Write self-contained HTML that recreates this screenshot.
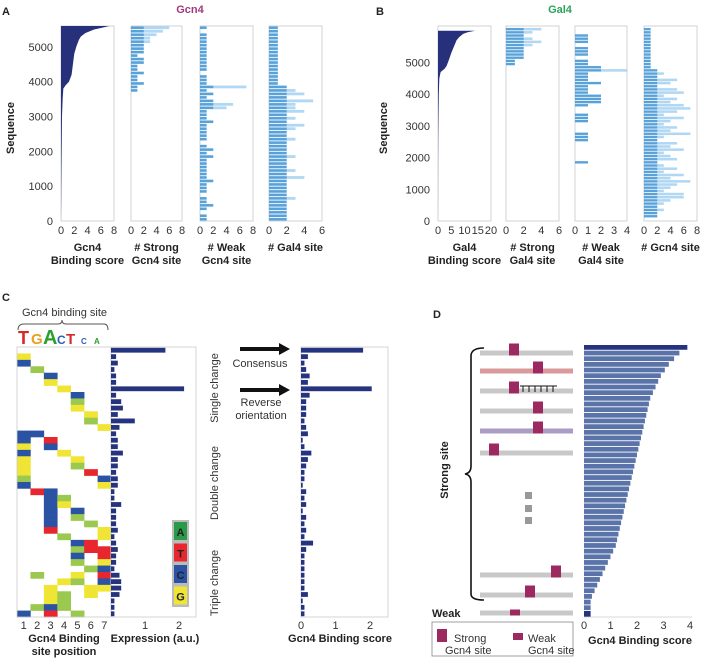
<!DOCTYPE html>
<html><head><meta charset="utf-8"><style>
body{margin:0;background:#fff}
svg{display:block;font-family:"Liberation Sans",sans-serif}
.b{font-weight:bold;font-size:11px;fill:#222}
.t{font-size:11px;fill:#333}
</style></head><body>
<svg id="fig" width="704" height="660" viewBox="0 0 704 660" xmlns="http://www.w3.org/2000/svg">
<g id="gA"></g>
<g id="gB"></g>
<g id="gC"></g>
<g id="gD"></g>
</svg>
<script>
// ---- Panel A data ----
const aSeq=[5600,5550,5500,5400,5300,5200,5000,4800,4500,4200,4000,3900,3800,3500,3000,2000,1000,0];
const aScore=[7.3,6.2,5.0,3.7,3.0,2.7,2.3,2.0,1.8,1.6,1.2,0.7,0.35,0.25,0.15,0.1,0.05,0];
const aStrong=[6,5,4,3,3,2,2,2,1,2,2,1,1,2,1,1,2,1,1,0,0,0,0,0,0,0,0,0,0,0,0,0,0,0,0,0,0,0,0,0,0,0,0,0,0,0,0,0,0,0,0,0,0,0,0,0];
const aWeak=[1,0,1,1,1,1,1,1,1,1,1,1,1,0,1,1,1,7,1,2,1,2,5,4,1,1,1,2,1,1,1,1,1,0,1,2,1,2,1,1,1,1,1,1,2,1,1,1,0,1,1,2,1,0,1,1];
const aGal=[1,1,1,1,1,1,1,1,1,1,1,1,1,1,1,1,1,2,3,4,2,5,3,3,4,2,3,2,4,3,2,2,3,2,2,2,2,3,2,2,2,3,2,4,2,2,2,2,2,3,2,2,2,2,2,2];
const aYTicks=[0,1000,2000,3000,4000,5000];
// ---- Panel B data ----
const bSeq=[6000,5950,5900,5800,5700,5600,5500,5300,5100,4900,4800,4700,4500,4000,3000,2700,2000,0];
const bScore=[14,11,9.5,8,7,6.5,6,5,4.2,3.3,2.5,1,0.5,0.3,0.15,0.1,0.05,0];
const bStrong=[4,3,2,3,4,3,2,2,2,2,1,1,0,0,0,0,0,0,0,0,0,0,0,0,0,0,0,0,0,0,0,0,0,0,0,0,0,0,0,0,0,0,0,0,0,0,0,0,0,0,0,0,0,0,0,0,0,0,0,0];
const bWeak=[0,0,1,1,1,0,1,1,1,0,1,1,2,4,1,1,1,2,1,1,1,2,2,2,1,0,0,1,1,1,0,0,0,1,1,1,0,0,0,0,0,0,1,0,0,0,0,0,0,0,0,0,0,0,0,0,0,0,0,0];
const bGcn=[1,1,1,1,1,1,1,1,1,1,1,1,1,2,3,2,5,4,2,5,6,3,5,4,6,7,5,3,6,4,3,5,4,7,3,2,5,4,6,3,4,5,2,3,5,3,6,4,7,5,4,3,6,6,4,3,2,3,2,2];
const bYTicks=[0,1000,2000,3000,4000,5000];
// ---- Panel C data ----
const cRows=[".......","G......","C......",".A.....","..C....","..G....","...G...","....C..","....A..","....G..",".....G.",".....A.","......G","CC.....","C.T....","G.C....","C..G...","G...G..","G...A..","G....T.","A.....C","C.....G",".TC....","..CA...","..CG...","..C.C..","..C.A..","..C..A.","..T...G","...A..G","....CT.","....ATT","....C.T","....A.G",".....AC",".A..G.T","...GA.C","..G..GG","..GA.G.","..GA...",".ACA...","C.T.A.."];
const cExpr=[1.6,0.15,0.2,0.1,0.15,0.15,2.15,0.15,0.3,0.35,0.2,0.7,0.25,0.15,0.2,0.2,0.35,0.2,0.2,0.15,0.2,0.2,0.1,0.1,0.3,0.15,0.15,0.15,0.2,0.1,0.15,0.2,0.15,0.15,0.1,0.25,0.3,0.3,0.25,0.1,0.1,0.1];
const cBind=[1.8,0.2,0.1,0.15,0.25,0.2,2.05,0.25,0.15,0.15,0.15,0.1,0.15,0.2,0.05,0.1,0.3,0.2,0.15,0.1,0.1,0.05,0.15,0.1,0.15,0.05,0.15,0.1,0.15,0.1,0.35,0.15,0.1,0.1,0.1,0.1,0.1,0.1,0.2,0.05,0.1,0.1];
const cPosLabels=[1,2,3,4,5,6,7];
const cExprTicks=[1,2];
const cBindTicks=[0,1,2];
// ---- Panel D data ----
const dScores=[3.9,3.6,3.4,3.2,3.05,2.9,2.8,2.7,2.6,2.5,2.45,2.4,2.35,2.3,2.25,2.2,2.15,2.1,2.05,2.0,1.95,1.9,1.85,1.8,1.75,1.7,1.65,1.6,1.55,1.5,1.45,1.4,1.35,1.3,1.25,1.2,1.1,1.0,0.9,0.8,0.7,0.6,0.5,0.4,0.3,0.25,0.25];
const dTicks=[0,1,2,3,4];

const NS="http://www.w3.org/2000/svg";
function mk(parent,tag,attrs,text){const e=document.createElementNS(NS,tag);for(const k in attrs)e.setAttribute(k,attrs[k]);if(text!==undefined)e.textContent=text;parent.appendChild(e);return e;}

function seqPanel(g,x0,x1,max,yTop,domTop,seqs,scores,counts,ticksX,yTicks,showY,lab1,lab2,name){
  const sy=s=>221-(221-yTop)*s/domTop;
  const sx=v=>x0+(x1-x0)*v/max;
  const fr=mk(g,'rect',{x:x0,y:yTop,width:x1-x0,height:221-yTop,fill:'none',stroke:'#c8c8c8','stroke-width':0.8});
  
  
  if(scores){
    let d='M'+sx(0)+','+sy(seqs[0]);
    seqs.forEach((s,i)=>{d+=' L'+sx(scores[i])+','+sy(s);});
    d+=' L'+sx(0)+','+sy(0)+' Z';
    const p=mk(g,'path',{d:d,fill:'#27307a'});
    
    
  }
  if(counts){
    const bh=(sy(0)-sy(100));
    counts.forEach((v,i)=>{
      if(!v)return;
      const s=domTop-100*(i+1)-(domTop%100);
      const y=sy(s+100);
      const r=mk(g,'rect',{x:x0,y:y+bh*0.1,width:sx(v)-x0,height:bh*0.8,fill:'#8ec6ee','fill-opacity':0.7});
      
      
      const r2=mk(g,'rect',{x:x0,y:y+bh*0.15,width:sx(Math.min(v,2))-x0,height:bh*0.7,fill:'#3b8fd0','fill-opacity':0.75});
      
      
    });
  }
  ticksX.forEach(t=>{const tx=mk(g,'text',{x:sx(t),y:234,'text-anchor':'middle',class:'t','font-size':12},String(t));});
  if(showY){yTicks.forEach(t=>{const tx=mk(g,'text',{x:x0-8,y:sy(t)+4,'text-anchor':'end',class:'t','font-size':12},String(t));});}
  const cx=(x0+x1)/2;
  const l1=mk(g,'text',{x:cx,y:251,'text-anchor':'middle',class:'b'},lab1);
  
  
  const l2=mk(g,'text',{x:cx,y:264,'text-anchor':'middle',class:'b'},lab2);
  
  
}
function txt(g,x,y,s,cls,extra,name){const e=mk(g,'text',Object.assign({x:x,y:y,class:cls},extra||{}),s);return e;}

// Panel A
const gA=document.getElementById('gA');
txt(gA,2,15,'A','b',{'font-size':14},'panel-label-a');
txt(gA,190,13,'Gcn4','b',{'font-size':14,'text-anchor':'middle',style:'fill:#a03a7c'},'panel-a-title');
txt(gA,14,128,'Sequence','b',{'text-anchor':'middle',transform:'rotate(-90 14 128)'},'panel-a-y-title');
seqPanel(gA,61,114,8,26,5600,aSeq,aScore,null,[0,2,4,6,8],aYTicks,true,'Gcn4','Binding score','a-score');
seqPanel(gA,131,182,8,26,5600,null,null,aStrong,[0,2,4,6,8],aYTicks,false,'# Strong','Gcn4 site','a-strong');
seqPanel(gA,200,253,8,26,5600,null,null,aWeak,[0,2,4,6,8],aYTicks,false,'# Weak','Gcn4 site','a-weak');
seqPanel(gA,269,322,6,26,5600,null,null,aGal,[0,2,4,6],aYTicks,false,'# Gal4 site','','a-gal4');

// Panel B
const gB=document.getElementById('gB');
txt(gB,376,15,'B','b',{'font-size':14},'panel-label-b');
txt(gB,560,13,'Gal4','b',{'font-size':14,'text-anchor':'middle',style:'fill:#2aa55a'},'panel-b-title');
txt(gB,387,128,'Sequence','b',{'text-anchor':'middle',transform:'rotate(-90 387 128)'},'panel-b-y-title');
seqPanel(gB,438,491,20,26,6150,bSeq,bScore,null,[0,5,10,15,20],bYTicks,true,'Gal4','Binding score','b-score');
seqPanel(gB,506,559,6,26,6150,null,null,bStrong,[0,2,4,6],bYTicks,false,'# Strong','Gal4 site','b-strong');
seqPanel(gB,575,627,4,26,6150,null,null,bWeak,[0,1,2,3,4],bYTicks,false,'# Weak','Gal4 site','b-weak');
seqPanel(gB,644,697,8,26,6150,null,null,bGcn,[0,2,4,6,8],bYTicks,false,'# Gcn4 site','','b-gcn4');

// Panel C
const gC=document.getElementById('gC');
txt(gC,2,301,'C','b',{'font-size':14},'panel-label-c');
txt(gC,22,316,'Gcn4 binding site','t',{'font-size':10},'binding-site-label');
const br=mk(gC,'path',{d:'M18,330 Q18,324 24,324 L58,324 Q62,324 62,320 Q62,324 66,324 L104,324 Q108,324 108,330',fill:'none',stroke:'#555','stroke-width':1});

const logo=[['T','#d42a2a',18,18],['G','#e8a020',31,15],['A','#2ca02c',43,20],['C','#2a5fb8',57,12],['T','#d42a2a',66,15],['C','#2a5fb8',81,8],['A','#2ca02c',94,8]];
logo.forEach(l=>{const e=mk(gC,'text',{x:l[2],y:344,'font-weight':'bold','font-size':l[3],fill:l[1]},l[0]);});
const hx0=17,hx1=111,hy0=347,hy1=617;
const rowH=(hy1-hy0)/cRows.length, colW=(hx1-hx0)/7;
const col={A:'#9bc94f',T:'#e8262d',C:'#2b53a3',G:'#f0e535'};
cRows.forEach((r,i)=>{for(let j=0;j<7;j++){const ch=r[j];if(ch==='.')continue;const c=mk(gC,'rect',{x:hx0+j*colW,y:hy0+i*rowH,width:colW+0.3,height:rowH+0.3,fill:col[ch]});}});
const hf=mk(gC,'rect',{x:hx0,y:hy0,width:hx1-hx0,height:hy1-hy0,fill:'none',stroke:'#ccc','stroke-width':0.8});
cPosLabels.forEach((p,j)=>{txt(gC,hx0+(j+0.5)*colW,629,String(p),'t',{'text-anchor':'middle','font-size':12},'position-tick');});
txt(gC,64,642,'Gcn4 Binding','b',{'text-anchor':'middle'},'heatmap-x-title');
txt(gC,64,655,'site position','b',{'text-anchor':'middle'},'heatmap-x-title-2');
const ex0=111,exU=34;
const ef=mk(gC,'rect',{x:ex0,y:hy0,width:85,height:hy1-hy0,fill:'none',stroke:'#ccc','stroke-width':0.8});
cExpr.forEach((v,i)=>{const r=mk(gC,'rect',{x:ex0,y:hy0+i*rowH+0.8,width:v*exU,height:rowH-1.6,fill:'#26347f'});});
cExprTicks.forEach(t=>txt(gC,ex0+t*exU,629,String(t),'t',{'text-anchor':'middle','font-size':12},'expression-tick'));
txt(gC,155,642,'Expression (a.u.)','b',{'text-anchor':'middle'},'expression-x-title');
const lg=mk(gC,'rect',{x:172,y:520,width:17,height:87,fill:'#bbb'});
[['A','#2a9a48'],['T','#e8262d'],['C','#2b53a3'],['G','#f0e535']].forEach((b,i)=>{const r=mk(gC,'rect',{x:174,y:522+i*21.5,width:13,height:18,fill:b[1]});txt(gC,180.5,536+i*21.5,b[0],'b',{'text-anchor':'middle','font-size':12},'legend-letter');});
[['Single change',388],['Double change',483],['Triple change',583]].forEach(s=>txt(gC,218,s[1],s[0],'t',{'text-anchor':'middle','font-size':11,transform:'rotate(-90 218 '+s[1]+')'},'change-group-label'));
[349,390].forEach(y=>{const a=mk(gC,'path',{d:`M240,${y-2} L279,${y-2} L279,${y-6} L290,${y} L279,${y+6} L279,${y+2} L240,${y+2} Z`,fill:'#111'});});
txt(gC,260,367,'Consensus','t',{'text-anchor':'middle','font-size':11},'consensus-label');
txt(gC,261,406,'Reverse','t',{'text-anchor':'middle','font-size':11},'reverse-label');
txt(gC,261,419,'orientation','t',{'text-anchor':'middle','font-size':11},'reverse-label-2');
const bx0=301,bxU=34.5;
const bf=mk(gC,'rect',{x:bx0,y:hy0,width:87,height:hy1-hy0,fill:'none',stroke:'#ccc','stroke-width':0.8});
cBind.forEach((v,i)=>{const r=mk(gC,'rect',{x:bx0,y:hy0+i*rowH+0.8,width:v*bxU,height:rowH-1.6,fill:'#26347f'});});
cBindTicks.forEach(t=>txt(gC,bx0+t*bxU,629,String(t),'t',{'text-anchor':'middle','font-size':12},'binding-tick'));
txt(gC,340,642,'Gcn4 Binding score','b',{'text-anchor':'middle'},'binding-x-title');

// Panel D
const gD=document.getElementById('gD');
txt(gD,433,318,'D','b',{'font-size':14},'panel-label-d');
const brace=mk(gD,'path',{d:'M484,348 Q471,348 471,356 L471,466 Q471,473 465,474 Q471,475 471,482 L471,594 Q471,600 484,600',fill:'none',stroke:'#111','stroke-width':1.6});
txt(gD,448,470,'Strong site','b',{'text-anchor':'middle','font-size':13,transform:'rotate(-90 448 470)'},'strong-site-label');
txt(gD,432,617,'Weak','b',{'font-size':13},'weak-label');
const lines=[[353,'#c8c8c8',514],[371,'#d99a9b',538],[391,'#c8c8c8',514],[411,'#c8c8c8',538],[431,'#ab9cc6',538],[453,'#c8c8c8',494],[575,'#c8c8c8',556],[595,'#c8c8c8',530],[613,'#c8c8c8',515]];
lines.forEach((l,i)=>{const r=mk(gD,'rect',{x:480,y:l[0]-2.5,width:93,height:5,fill:l[1]});
 const h=i===8?6:12;const s=mk(gD,'rect',{x:l[2]-5,y:l[0]+2.5-h,width:10,height:h,fill:'#9c2a60'});});
const tt=mk(gD,'path',{d:'M520,386 L557,386 M523,386 v6 M529,386 v6 M535,386 v6 M541,386 v6 M547,386 v6 M553,386 v6',stroke:'#111','stroke-width':1,fill:'none'});
[495,508,520].forEach(y=>{const r=mk(gD,'rect',{x:525,y:y-3,width:7,height:7,fill:'#999'});});
const dx0=584,dxU=26.5,dy0=345,dy1=611;
const dH=(dy1-dy0)/dScores.length;
dScores.forEach((v,i)=>{const r=mk(gD,'rect',{x:dx0,y:dy0+i*dH,width:v*dxU,height:dH-0.9,fill:i===0?'#26347f':'#5a73a8'});});
const wb=mk(gD,'rect',{x:dx0,y:611,width:0.25*dxU,height:6,fill:'#26347f'});
const dax=mk(gD,'line',{x1:dx0,y1:617,x2:692,y2:617,stroke:'#ccc','stroke-width':0.8});
dTicks.forEach(t=>txt(gD,dx0+t*dxU,629,String(t),'t',{'text-anchor':'middle','font-size':12},'d-x-tick'));
txt(gD,640,644,'Gcn4 Binding score','b',{'text-anchor':'middle'},'d-x-title');
const lb=mk(gD,'rect',{x:432,y:622,width:141,height:34,fill:'#fff',stroke:'#888','stroke-width':0.8});
const ls=mk(gD,'rect',{x:437,y:629,width:10,height:13,fill:'#9c2a60'});
const lw=mk(gD,'rect',{x:513,y:633,width:10,height:7,fill:'#9c2a60'});
txt(gD,454,642,'Strong','t',{'font-size':11},'legend-strong-label');
txt(gD,445,654,'Gcn4 site','t',{'font-size':11},'legend-strong-label-2');
txt(gD,528,642,'Weak','t',{'font-size':11},'legend-weak-label');
txt(gD,528,654,'Gcn4 site','t',{'font-size':11},'legend-weak-label-2');
</script>
</body></html>
